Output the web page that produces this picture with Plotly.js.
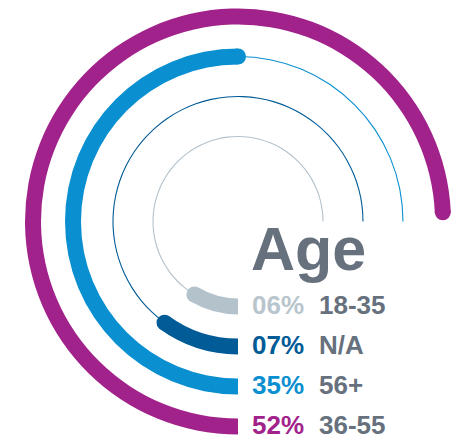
<!DOCTYPE html>
<html>
<head>
<meta charset="utf-8">
<script src="https://cdn.plot.ly/plotly-3.0.1.min.js"></script>
<style>html,body{margin:0;padding:0;background:#fff;}#chart{width:453px;height:436px;}</style>
</head>
<body>
<div id="chart"></div>
<script>
// ---- data ----
const categories = ['18-35', 'N/A', '56+', '36-55'];
const percents   = [6, 7, 35, 52];
const pctLabels  = ['06%', '07%', '35%', '52%'];
const chartTitle = 'Age';

// ---- styles ----
const colors     = ['#b4c2cb', '#005b96', '#0a8fd0', '#a1228b'];
const pctColors  = ['#b8c5cd', '#005b96', '#0a8fd0', '#a1228b'];
const labelColor = '#66717d';
const fullCircle = 70;      // percent that maps to a full turn
const trackEnd   = 270;     // degrees where the thin track stops
const thick = 16, thin = 1.1;
const r0 = 85, dr = 40;
const W = 453, H = 436;
const cx = 238, cy = 221.5, rPix = 214;

const traces = [];
const annotations = [];
percents.forEach((p, i) => {
  const R = r0 + dr * i;
  const deg = p / fullCircle * 360;
  // thick bar
  traces.push({
    type: 'barpolar', r: [thick], base: [R - thick / 2],
    theta: [deg / 2], width: [deg],
    marker: {color: colors[i], line: {width: 0}}, hoverinfo: 'skip', showlegend: false
  });
  // thin track
  if (deg < trackEnd - 1 && i < 3) {
    traces.push({
      type: 'barpolar', r: [thin], base: [R - thin / 2],
      theta: [(deg + trackEnd) / 2], width: [trackEnd - deg],
      marker: {color: colors[i], line: {width: 0}}, hoverinfo: 'skip', showlegend: false
    });
  }
  // rounded cap
  traces.push({
    type: 'scatterpolar', mode: 'markers', r: [R], theta: [deg],
    marker: {size: thick, color: colors[i], line: {width: 0}},
    hoverinfo: 'skip', showlegend: false
  });
  const yc = cy + R - 2;
  annotations.push({
    xref: 'paper', yref: 'paper', x: 250 / W, y: 1 - yc / H,
    xanchor: 'left', yanchor: 'middle', showarrow: false,
    text: '<b>' + pctLabels[i] + '</b>',
    font: {family: 'Liberation Sans, Arial, sans-serif', size: 26, color: pctColors[i]}
  });
  annotations.push({
    xref: 'paper', yref: 'paper', x: 317 / W, y: 1 - yc / H,
    xanchor: 'left', yanchor: 'middle', showarrow: false,
    text: '<b>' + categories[i] + '</b>',
    font: {family: 'Liberation Sans, Arial, sans-serif', size: 26, color: labelColor}
  });
});
annotations.push({
  xref: 'paper', yref: 'paper', x: 249 / W, y: 1 - 249 / H,
  xanchor: 'left', yanchor: 'middle', showarrow: false,
  text: '<b>' + chartTitle + '</b>',
  font: {family: 'Liberation Sans, Arial, sans-serif', size: 61, color: labelColor}
});

const layout = {
  width: W, height: H,
  margin: {l: 0, r: 0, t: 0, b: 0, pad: 0},
  paper_bgcolor: '#ffffff', plot_bgcolor: '#ffffff',
  showlegend: false,
  polar: {
    domain: {x: [(cx - rPix) / W, (cx + rPix) / W], y: [1 - (cy + rPix) / H, 1 - (cy - rPix) / H]},
    bgcolor: 'rgba(0,0,0,0)',
    hole: 0,
    radialaxis: {range: [0, rPix], visible: false, showgrid: false, showline: false, showticklabels: false, ticks: ''},
    angularaxis: {rotation: -90, direction: 'clockwise', visible: false, showgrid: false, showline: false, showticklabels: false, ticks: ''}
  },
  annotations: annotations
};

Plotly.newPlot('chart', traces, layout, {displayModeBar: false, staticPlot: true});
</script>
</body>
</html>
